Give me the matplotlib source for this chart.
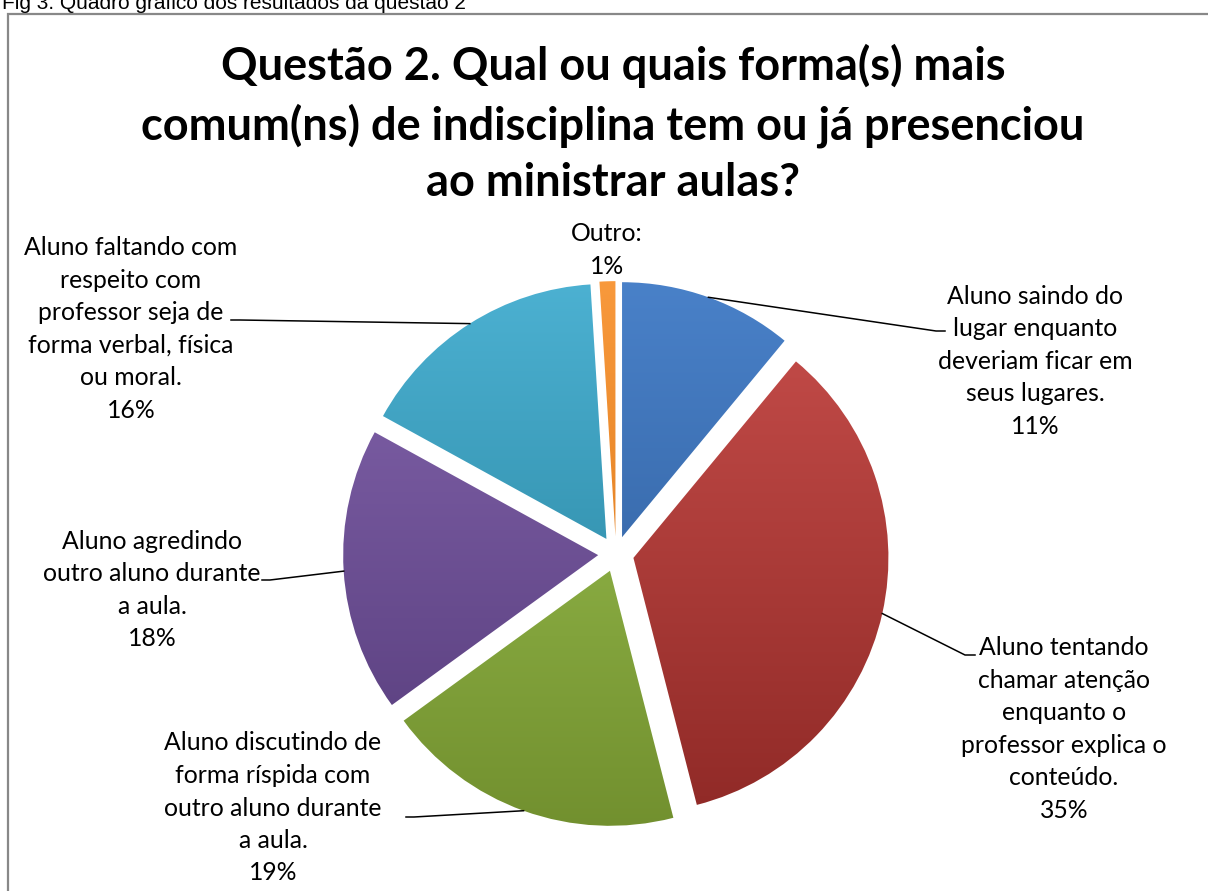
import numpy as np
import matplotlib
matplotlib.use("Agg")
import matplotlib.pyplot as plt
from matplotlib.patches import Rectangle
from matplotlib.colors import LinearSegmentedColormap

categories = [
    "Aluno saindo do\nlugar enquanto\ndeveriam ficar em\nseus lugares.",
    "Aluno tentando\nchamar atenção\nenquanto o\nprofessor explica o\nconteúdo.",
    "Aluno discutindo de\nforma ríspida com\noutro aluno durante\na aula.",
    "Aluno agredindo\noutro aluno durante\na aula.",
    "Aluno faltando com\nrespeito com\nprofessor seja de\nforma verbal, física\nou moral.",
    "Outro:",
]
values = [11, 35, 19, 18, 16, 1]
pct_labels = ["11%", "35%", "19%", "18%", "16%", "1%"]
title = "Questão 2. Qual ou quais forma(s) mais\ncomum(ns) de indisciplina tem ou já presenciou\nao ministrar aulas?"
caption = "Fig 3. Quadro gráfico dos resultados da questão 2"

top_colors = ["#4A82CA", "#C74E4B", "#9EC453", "#8465AE", "#4DB2D3", "#F99A3D"]
bot_colors = ["#2B5894", "#8F2926", "#718F2E", "#553B79", "#227C96", "#D57112"]

W, H = 1208, 891
fig = plt.figure(figsize=(W / 100, H / 100), dpi=100)
ax = fig.add_axes([0, 0, 1, 1])

CX, CY, RX, RY = 616, 554, 255, 255
def px(x):
    return (x - CX) / RX
def py(y):
    return (CY - y) / RY

explode = 0.07
wedges, _ = ax.pie(values, startangle=90, counterclock=False,
                   explode=[explode] * len(values), radius=1,
                   colors=top_colors, wedgeprops=dict(linewidth=0))
ax.set_aspect("auto")
ax.axis("off")

# vertical gradient shading clipped to each wedge
for w, ct, cb in zip(wedges, top_colors, bot_colors):
    cmap = LinearSegmentedColormap.from_list("g", [cb, ct])
    grad = np.linspace(0, 1, 256).reshape(-1, 1)
    cx0, cy0 = w.center
    im = ax.imshow(grad, cmap=cmap, origin="lower", aspect="auto",
                   extent=[cx0 - 1.05, cx0 + 1.05, cy0 - 1.05, cy0 + 1.05],
                   zorder=w.get_zorder() + 0.1)
    im.set_clip_path(w)
    w.set_facecolor("none")

ax.set_xlim(px(0), px(W))
ax.set_ylim(py(H), py(0))

font = "Lato"
lab_fs = 17.8
lab_pos = [(1035, 361), (1064, 729), (273, 808), (152, 590), (131, 329), (607, 250)]
lead_end = [(936, 331), (965, 655), (414, 817), (270, 580), (240, 320), None]
lead_hx = [945, 975, 406, 262, 231, None]
lab_ls = [1.5, 1.5, 1.5, 1.5, 1.5, 1.5]

for i, w in enumerate(wedges):
    x, y = lab_pos[i]
    ax.text(px(x), py(y), categories[i] + "\n" + pct_labels[i], ha="center", va="center",
            fontsize=lab_fs, family=font, linespacing=lab_ls[i], color="#000000", zorder=10)
    if lead_end[i] is not None:
        mid = np.deg2rad((w.theta1 + w.theta2) / 2)
        sx = w.center[0] + np.cos(mid)
        sy = w.center[1] + np.sin(mid)
        ex, ey = lead_end[i]
        ax.plot([sx, px(ex), px(lead_hx[i])], [sy, py(ey), py(ey)],
                color="black", lw=1.1, zorder=9)

fig.text(613 / W, 1 - 124 / H, title, ha="center", va="center",
         fontsize=32.5, fontweight="bold", family=font, linespacing=1.42)

fig.text(2 / W, 1 - 9 / H, caption, ha="left", va="baseline", fontsize=15,
         family="Liberation Sans", color="#000000")

fig.patches.append(Rectangle((8 / W, -0.05), 1.1, (H - 14) / H + 0.05,
                             transform=fig.transFigure, fill=False,
                             edgecolor="#888888", lw=1.6, figure=fig))

fig.savefig("out.png", dpi=100)
